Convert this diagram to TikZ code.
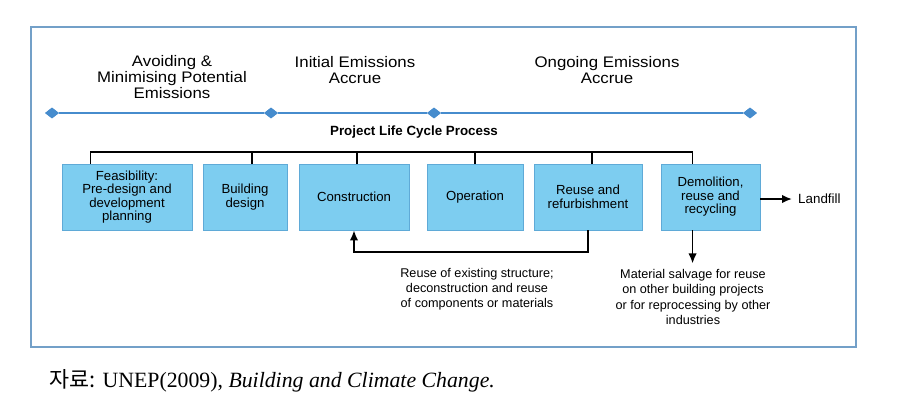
\documentclass[tikz,border=0pt]{standalone}
\usepackage{fontspec}
\setmainfont{Liberation Serif}
\newfontfamily\arial{Liberation Sans}
\newfontfamily\arialwide[FakeStretch=1.1]{Liberation Sans}
\newfontfamily\kor{Noto Sans CJK KR}
\usetikzlibrary{shapes.geometric,calc,arrows.meta}
\definecolor{boxblue}{RGB}{125,205,240}
\definecolor{boxedge}{RGB}{95,170,215}
\definecolor{lineblue}{RGB}{70,140,205}
\definecolor{framecol}{RGB}{115,160,200}
\tikzset{
  phase/.style={font=\arialwide\fontsize{8.7}{8.9}\selectfont, align=center},
  stage/.style={draw=boxedge, fill=boxblue, font=\arial\fontsize{7.5}{7.7}\selectfont,
    align=center, inner sep=1pt, minimum height=13.2mm},
  note/.style={font=\arial\fontsize{7.2}{8.6}\selectfont, align=center},
  milestone/.style={diamond, fill=lineblue, inner sep=0pt, minimum width=2.8mm, minimum height=2.2mm},
  flow/.style={line width=1pt, -{Latex[length=2mm, width=1.7mm]}}
}
\begin{document}
\begin{tikzpicture}[x=0.2mm, y=-0.2mm]
    \useasboundingbox (0, 0) rectangle (898, 410);
    \draw[framecol, line width=0.35mm] (31, 27) rectangle (856, 347);

    % timeline
    \node[milestone] (d1) at (52, 113) {};
    \node[milestone] (d2) at (271, 113) {};
    \node[milestone] (d3) at (434, 113) {};
    \node[milestone] (d4) at (750, 113) {};
    \draw[lineblue, line width=1.1pt] (d1) -- (d2) -- (d3) -- (d4);
    \foreach \d in {d1, d2, d3, d4}
        \node[milestone] at (\d) {};
    \node[phase] at (172, 77) {Avoiding \&\\Minimising Potential\\Emissions};
    \node[phase] at (355, 70) {Initial Emissions\\Accrue};
    \node[phase] at (607, 70) {Ongoing Emissions\\Accrue};

    \node[font=\arial\bfseries\fontsize{7.6}{8}\selectfont] (title) at (414, 132) {Project Life Cycle Process};

    % stages
    \node[stage, minimum width=26mm] (feas) at (127, 197) {Feasibility:\\Pre-design and\\development\\planning};
    \node[stage, minimum width=16.8mm] (design) at (245, 197) {Building\\design};
    \node[stage, minimum width=22mm] (constr) at (354, 197) {Construction};
    \node[stage, minimum width=19.2mm] (oper) at (475, 197) {Operation};
    \node[stage, minimum width=21.6mm] (reuse) at (588, 197) {Reuse and\\refurbishment};
    \node[stage, minimum width=19.8mm] (demol) at (710.5, 197) {Demolition,\\reuse and\\recycling};

    \foreach \n/\f in {feas/0.22, design/0.58, constr/0.53, oper/0.5, reuse/0.54, demol/0.32}
        \draw[line width=1pt] ($(\n.north west)!\f!(\n.north east)$) -- ++(0, -12);
    \draw[line width=1pt, line cap=rect] ($(feas.north west)!0.22!(feas.north east)$) ++(0, -12)
        -- ($(demol.north west)!0.32!(demol.north east) + (0, -12)$);

    % outputs
    \node[note, font=\arial\fontsize{7.6}{8}\selectfont, anchor=west] (landfill) at (792, 199) {Landfill};
    \draw[flow] (demol.east |- landfill) -- (landfill.west);

    \node[note] (salvage) at (693, 297) {Material salvage for reuse\\on other building projects\\or for reprocessing by other\\industries};
    \coordinate (drop) at ($(demol.south west)!0.32!(demol.south east)$);
    \draw[flow] (drop) -- (drop |- salvage.north);

    \node[note] (reusenote) at (477, 289) {Reuse of existing structure;\\deconstruction and reuse\\of components or materials};
    \draw[flow] (reuse.south) -- ++(0, 22) -| (constr.south);

    \node[anchor=west, font=\fontsize{12.4}{13}\selectfont] (source) at (43, 381)
        {{\kor 자료:} UNEP(2009), \textit{Building and Climate Change.}};
\end{tikzpicture}
\end{document}
